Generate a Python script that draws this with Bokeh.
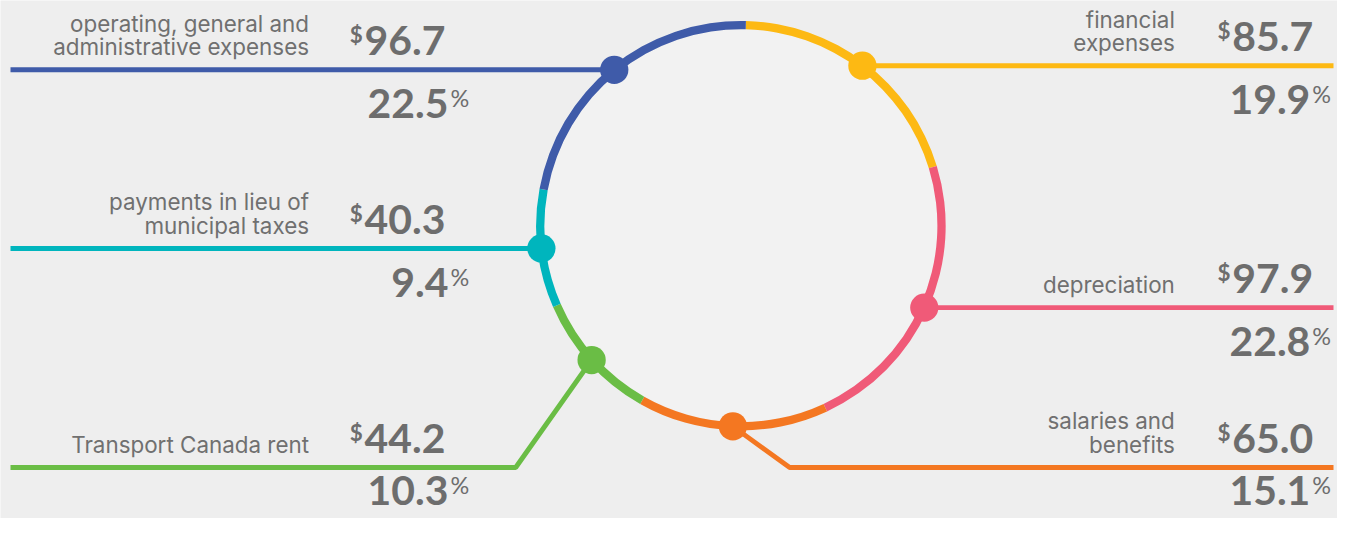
import numpy as np
from bokeh.plotting import figure
from bokeh.models import Range1d
from bokeh.core.properties import value
from bokeh.embed import file_html
from bokeh.resources import INLINE

# ---------------- data ----------------
categories = ["financial expenses", "depreciation", "salaries and benefits",
              "Transport Canada rent", "payments in lieu of municipal taxes",
              "operating, general and administrative expenses"]
label_lines = [["financial", "expenses"], ["depreciation"], ["salaries and", "benefits"],
               ["Transport Canada rent"], ["payments in lieu of", "municipal taxes"],
               ["operating, general and", "administrative expenses"]]
amounts = [85.7, 97.9, 65.0, 44.2, 40.3, 96.7]
percents = [19.9, 22.8, 15.1, 10.3, 9.4, 22.5]
colors = ["#fdb913", "#f05a78", "#f47721", "#6abd45", "#00b5bd", "#3f5ba9"]

# ---------------- layout ----------------
# design space: 1353 x 534 px, y down; mapped into the figure with a uniform scale
PW, PH = 1337, 518
S, TX, TY = 0.975, 16, -2
H = 534
CX, CY = 743, 233
R_IN, R_OUT, R_DOT = 201.5, 210, 206
START_OFFSET = 1.4  # degrees clockwise from 12 o'clock
sides = ["right", "right", "right", "left", "left", "left"]
bottom_row = 481
elbow_x = {2: 793, 3: 512}
LINE_LEFT = (10 - TX) / S
LINE_RIGHT = (PW - 4 - TX) / S
TEXT = "#707070"
NUM = "#6d6d6d"
LAB_FONT = value("Inter")
NUM_FONT = value("Lato")
BASE_FIX = 0.3  # baseline correction, fraction of font size

LAB_SIZE, NUM_SIZE, DOL_SIZE, PCT_SIZE = 23, 42, 23, 24


def Y(y):
    return H - y


def px(v):
    return f"{v * S:.1f}px"


def txt(x, base, t, size, align, font, bold=False):
    p.text(x=[x], y=[Y(base - BASE_FIX * size)], text=[t], text_align=align,
           text_baseline="alphabetic", text_font=font, text_font_size=px(size),
           text_font_style="bold" if bold else "normal",
           text_color=NUM if font is NUM_FONT else TEXT)


x0 = (0 - TX) / S
x1 = (PW - TX) / S
y_top = (0 - TY) / S
y_bot = (PH - TY) / S

p = figure(width=PW, height=PH, output_backend="svg", toolbar_location=None,
           x_range=Range1d(x0, x1), y_range=Range1d(Y(y_bot), Y(y_top)),
           min_border=0, background_fill_color="#eeeeee", border_fill_color="#eeeeee")
p.axis.visible = False
p.grid.visible = False
p.outline_line_color = None

# interior of the ring
p.circle(x=[CX], y=[Y(CY)], radius=R_IN, fill_color="#f2f2f2", line_color=None)

cum = np.cumsum([0] + percents)
a0 = START_OFFSET + 3.6 * cum[:-1]
a1 = START_OFFSET + 3.6 * cum[1:]
p.annular_wedge(x=CX, y=Y(CY), inner_radius=R_IN, outer_radius=R_OUT,
                start_angle=np.radians(90 - a0), end_angle=np.radians(90 - a1),
                direction="clock", fill_color=colors, line_color=None)

mid = np.radians((a0 + a1) / 2)
dot_x = CX + R_DOT * np.sin(mid)
dot_y = CY - R_DOT * np.cos(mid)

for i in range(len(categories)):
    dx, dy = dot_x[i], dot_y[i]
    row = bottom_row if i in elbow_x else dy
    ex = elbow_x.get(i, dx)
    end = LINE_RIGHT if sides[i] == "right" else LINE_LEFT
    p.line([dx, ex, end], [Y(dy), Y(row), Y(row)], line_color=colors[i], line_width=5 * S)

    if sides[i] == "left":
        lab_x, val_x, pct_x = 300, 357, 443
    else:
        lab_x, val_x, pct_x = 1188, 1247, 1327

    lines = label_lines[i]
    n = len(lines)
    for k, t in enumerate(lines):
        base = row - 17 - 24 * (n - 1 - k)
        txt(lab_x, base, t, LAB_SIZE, "right", LAB_FONT)

    vb = row - 17
    txt(val_x, vb, f"{amounts[i]:.1f}", NUM_SIZE, "left", NUM_FONT, bold=True)
    txt(val_x - 2, vb - 12, "$", DOL_SIZE, "right", NUM_FONT, bold=True)

    # the bottom row sits at the page edge: keep its percentage inside the frame
    pb = row + (36 if i in elbow_x else 47)
    txt(pct_x, pb, f"{percents[i]:.1f}", NUM_SIZE, "right", NUM_FONT, bold=True)
    txt(pct_x + 2, pb - 11, "%", PCT_SIZE, "left", NUM_FONT)

# dots on top of the ring
p.circle(x=dot_x, y=H - dot_y, radius=14.5, fill_color=colors, line_color=None)

open("out.html", "w").write(file_html(p, INLINE))
